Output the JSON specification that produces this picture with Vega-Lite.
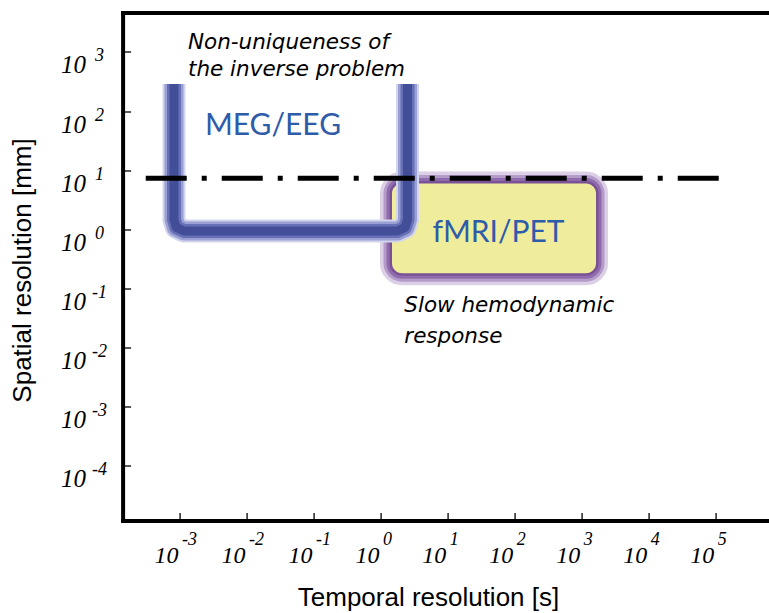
{
  "$schema": "https://vega.github.io/schema/vega-lite/v6.json",
  "autosize": {"type": "none"},
  "padding": {"left": 122.6, "top": 12.5, "right": 0, "bottom": 92.5},
  "width": 646,
  "height": 508,
  "background": "white",
  "view": {"stroke": null},
  "datasets": {
    "box": [{"name": "fMRI/PET", "t": 1.466, "t2": 1633, "s": 5.92, "s2": 0.1784}],
    "tube": [
      {"order": 1, "t": 0.000814, "s": 286.6},
      {"order": 2, "t": 0.000814, "s": 1.45},
      {"order": 3, "t": 0.00088, "s": 1.07},
      {"order": 4, "t": 0.001148, "s": 0.928},
      {"order": 5, "t": 1.772, "s": 0.928},
      {"order": 6, "t": 2.3, "s": 1.07},
      {"order": 7, "t": 2.499, "s": 1.45},
      {"order": 8, "t": 2.499, "s": 286.6}
    ],
    "dash": [{"t": 0.000308, "t2": 137700, "s": 7.25}],
    "notes": [
      {"t": 0.001317, "s": 1109, "text": "Non-uniqueness of"},
      {"t": 0.001317, "s": 391.3, "text": "the inverse problem"},
      {"t": 2.239, "s": 0.03992, "text": "Slow hemodynamic"},
      {"t": 2.239, "s": 0.01192, "text": "response"}
    ],
    "names": [
      {"t": 0.0245, "s": 39.23, "text": "MEG/EEG"},
      {"t": 57.13, "s": 0.6046, "text": "fMRI/PET"}
    ]
  },
  "resolve": {"axis": {"x": "independent", "y": "independent"}},
  "layer": [
    {
      "data": {"name": "box"},
      "mark": {"type": "rect", "cornerRadius": 10, "fill": "transparent", "stroke": "#DCD0E7", "strokeWidth": 24},
      "encoding": {
        "x": {"field": "t", "type": "quantitative",
          "scale": {"type": "log", "domain": [0.000139, 616600], "nice": false, "zero": false},
          "axis": {"orient": "bottom", "values": [0.001, 0.01, 0.1, 1, 10, 100, 1000, 10000, 100000],
            "labelExpr": "'10'", "labelAlign": "right", "labelBaseline": "alphabetic", "labelOffset": -2,
            "labelPadding": 49.7, "labelFont": "Liberation Serif", "labelFontStyle": "italic", "labelFontSize": 24,
            "labelColor": "black", "labelOverlap": false, "labelFlush": false, "labelBound": false,
            "ticks": true, "tickSize": -8, "tickWidth": 1.5, "tickColor": "#222",
            "domain": true, "domainColor": "black", "domainWidth": 4, "domainCap": "square", "grid": false,
            "title": "Temporal resolution [s]", "titleFont": "Liberation Sans", "titleFontSize": 26,
            "titleFontWeight": "normal", "titleColor": "black", "titleX": 305.4, "titleY": 85,
            "titleAlign": "center", "titleBaseline": "alphabetic", "titleAnchor": null}},
        "x2": {"field": "t2"},
        "y": {"field": "s", "type": "quantitative",
          "scale": {"type": "log", "domain": [0.00001156, 4667], "nice": false, "zero": false},
          "axis": {"orient": "left", "values": [0.0001, 0.001, 0.01, 0.1, 1, 10, 100, 1000],
            "labelExpr": "'10'", "labelAlign": "right", "labelBaseline": "alphabetic", "labelOffset": 21,
            "labelPadding": 45, "labelFont": "Liberation Serif", "labelFontStyle": "italic", "labelFontSize": 25,
            "labelColor": "black", "labelOverlap": false, "labelFlush": false, "labelBound": false,
            "ticks": true, "tickSize": -8, "tickWidth": 1.5, "tickColor": "#222",
            "domain": true, "domainColor": "black", "domainWidth": 4, "domainCap": "square", "grid": false,
            "title": "Spatial resolution [mm]", "titleFont": "Liberation Sans", "titleFontSize": 26,
            "titleFontWeight": "normal", "titleColor": "black", "titleX": -91.6, "titleY": 257.5,
            "titleAngle": 270, "titleAlign": "center", "titleBaseline": "alphabetic", "titleAnchor": null}},
        "y2": {"field": "s2"}
      }
    },
    {
      "data": {"name": "box"},
      "mark": {"type": "rect", "cornerRadius": 10, "fill": "transparent", "stroke": "#B49BC9", "strokeWidth": 17},
      "encoding": {
        "x": {"field": "t", "type": "quantitative",
          "scale": {"type": "log", "domain": [0.000139, 616600], "nice": false, "zero": false},
          "axis": {"orient": "bottom", "values": [0.001, 0.01, 0.1, 1, 10, 100, 1000, 10000, 100000],
            "labelExpr": "'' + round(log(datum.value)/LN10)", "labelAlign": "left", "labelBaseline": "alphabetic",
            "labelOffset": 1.5, "labelPadding": 24, "labelFont": "Liberation Serif", "labelFontStyle": "italic",
            "labelFontSize": 18, "labelColor": "black", "labelOverlap": false, "labelFlush": false, "labelBound": false,
            "ticks": false, "domain": false, "grid": false, "title": null}},
        "x2": {"field": "t2"},
        "y": {"field": "s", "type": "quantitative",
          "scale": {"type": "log", "domain": [0.00001156, 4667], "nice": false, "zero": false},
          "axis": {"orient": "left", "values": [0.0001, 0.001, 0.01, 0.1, 1, 10, 100, 1000],
            "labelExpr": "'' + round(log(datum.value)/LN10)", "labelAlign": "center", "labelBaseline": "alphabetic",
            "labelOffset": 9, "labelPadding": 23.6, "labelFont": "Liberation Serif", "labelFontStyle": "italic",
            "labelFontSize": 18, "labelColor": "black", "labelOverlap": false, "labelFlush": false, "labelBound": false,
            "ticks": false, "domain": false, "grid": false, "title": null}},
        "y2": {"field": "s2"}
      }
    },
    {
      "data": {"name": "box"},
      "mark": {"type": "rect", "cornerRadius": 10, "fill": "transparent", "stroke": "#8F6CAB", "strokeWidth": 11},
      "encoding": {
        "x": {"field": "t", "type": "quantitative",
          "scale": {"type": "log", "domain": [0.000139, 616600], "nice": false, "zero": false},
          "axis": {"orient": "top", "labels": false, "ticks": false, "grid": false, "title": null,
            "domain": true, "domainColor": "black", "domainWidth": 4, "domainCap": "square"}},
        "x2": {"field": "t2"},
        "y": {"field": "s", "type": "quantitative", "axis": null},
        "y2": {"field": "s2"}
      }
    },
    {
      "data": {"name": "box"},
      "mark": {"type": "rect", "cornerRadius": 10, "fill": "transparent", "stroke": "#7A5196", "strokeWidth": 5},
      "encoding": {
        "x": {"field": "t", "type": "quantitative", "axis": null},
        "x2": {"field": "t2"},
        "y": {"field": "s", "type": "quantitative", "axis": null},
        "y2": {"field": "s2"}
      }
    },
    {
      "data": {"name": "box"},
      "mark": {"type": "rect", "cornerRadius": 10, "fill": "#EFED9B", "strokeWidth": 0},
      "encoding": {
        "x": {"field": "t", "type": "quantitative", "axis": null},
        "x2": {"field": "t2"},
        "y": {"field": "s", "type": "quantitative", "axis": null},
        "y2": {"field": "s2"}
      }
    },
    {
      "data": {"name": "tube"},
      "mark": {"type": "line", "color": "#D3D5EC", "strokeWidth": 23, "strokeJoin": "round", "strokeCap": "butt"},
      "encoding": {
        "x": {"field": "t", "type": "quantitative", "axis": null},
        "y": {"field": "s", "type": "quantitative", "axis": null},
        "order": {"field": "order"}
      }
    },
    {
      "data": {"name": "tube"},
      "mark": {"type": "line", "color": "#9AA0D3", "strokeWidth": 19, "strokeJoin": "round", "strokeCap": "butt"},
      "encoding": {
        "x": {"field": "t", "type": "quantitative", "axis": null},
        "y": {"field": "s", "type": "quantitative", "axis": null},
        "order": {"field": "order"}
      }
    },
    {
      "data": {"name": "tube"},
      "mark": {"type": "line", "color": "#6670B6", "strokeWidth": 14, "strokeJoin": "round", "strokeCap": "butt"},
      "encoding": {
        "x": {"field": "t", "type": "quantitative", "axis": null},
        "y": {"field": "s", "type": "quantitative", "axis": null},
        "order": {"field": "order"}
      }
    },
    {
      "data": {"name": "tube"},
      "mark": {"type": "line", "color": "#434E98", "strokeWidth": 9, "strokeJoin": "round", "strokeCap": "butt"},
      "encoding": {
        "x": {"field": "t", "type": "quantitative", "axis": null},
        "y": {"field": "s", "type": "quantitative", "axis": null},
        "order": {"field": "order"}
      }
    },
    {
      "data": {"name": "dash"},
      "mark": {"type": "rule", "color": "black", "strokeWidth": 5, "strokeDash": [41, 15, 5, 15], "strokeCap": "butt"},
      "encoding": {
        "x": {"field": "t", "type": "quantitative", "axis": null},
        "x2": {"field": "t2"},
        "y": {"field": "s", "type": "quantitative", "axis": null}
      }
    },
    {
      "data": {"name": "notes"},
      "mark": {"type": "text", "font": "DejaVu Sans", "fontStyle": "italic", "fontSize": 21.5, "align": "left", "baseline": "alphabetic", "color": "black"},
      "encoding": {
        "x": {"field": "t", "type": "quantitative", "axis": null},
        "y": {"field": "s", "type": "quantitative", "axis": null},
        "text": {"field": "text"}
      }
    },
    {
      "data": {"name": "names"},
      "mark": {"type": "text", "font": "Lato", "fontSize": 30, "align": "center", "baseline": "alphabetic", "color": "#2E5BAA"},
      "encoding": {
        "x": {"field": "t", "type": "quantitative", "axis": null},
        "y": {"field": "s", "type": "quantitative", "axis": null},
        "text": {"field": "text"}
      }
    }
  ]
}
